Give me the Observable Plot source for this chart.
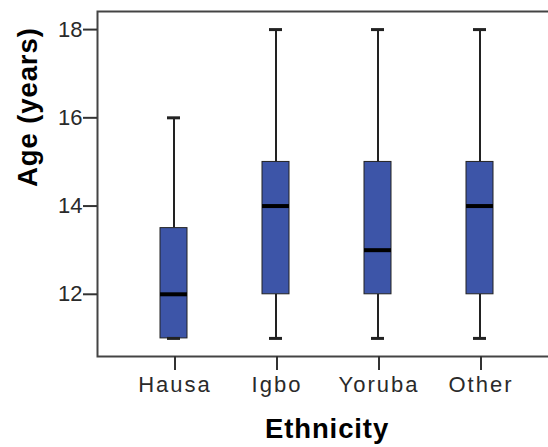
<!DOCTYPE html>
<html>
<head>
<meta charset="utf-8">
<script src="https://cdn.jsdelivr.net/npm/d3@7"></script>
<script src="https://cdn.jsdelivr.net/npm/@observablehq/plot@0.6"></script>
<style>
  html, body { margin: 0; padding: 0; background: #fff; }
  svg g[aria-label="x-axis tick label"] text { letter-spacing: 2px; }
  svg g[aria-label="text"] text { letter-spacing: 0.9px; }
</style>
</head>
<body>
<div id="chart"></div>
<script>
const ethnicity = ["Hausa", "Igbo", "Yoruba", "Other"];
const minAge    = [11, 11, 11, 11];
const q1Age     = [11, 12, 12, 12];
const medianAge = [12, 14, 13, 14];
const q3Age     = [13.5, 15, 15, 15];
const maxAge    = [16, 18, 18, 18];
const yTicks    = [12, 14, 16, 18];
const xTitle = "Ethnicity";
const yTitle = "Age (years)";

const data = ethnicity.map((e, i) => ({
  e, min: minAge[i], q1: q1Age[i], median: medianAge[i], q3: q3Age[i], max: maxAge[i]
}));

const boxFill = "#3d55a8";
const ink = "#222";

const chart = Plot.plot({
  width: 548,
  height: 447,
  marginLeft: 97,
  marginRight: -7,
  marginTop: 11,
  marginBottom: 91,
  style: { fontFamily: "'Liberation Sans', Arial, sans-serif", fontSize: "22px", color: "#2a2a2a", background: "#fff" },
  x: { type: "band", domain: ethnicity, paddingInner: 0.737, paddingOuter: 0.599, align: 0.5 },
  y: { domain: [10.59, 18.41] },
  marks: [
    Plot.frame({ stroke: "#444", strokeWidth: 2 }),
    Plot.ruleX(data, { x: "e", y1: "q3", y2: "max", stroke: ink, strokeWidth: 2 }),
    Plot.ruleX(data, { x: "e", y1: "min", y2: "q1", stroke: ink, strokeWidth: 2 }),
    Plot.barY(data, { x: "e", y1: "q1", y2: "q3", fill: boxFill, stroke: ink, strokeWidth: 1 }),
    Plot.tickY(data, { x: "e", y: "median", stroke: "#000", strokeWidth: 4 }),
    Plot.tickY(data, { x: "e", y: "max", stroke: ink, strokeWidth: 3, inset: 7 }),
    Plot.tickY(data, { x: "e", y: "min", stroke: ink, strokeWidth: 3, inset: 7 }),
    Plot.axisY({ ticks: yTicks, tickSize: 14, tickPadding: 1, stroke: "#333", strokeWidth: 2, fontSize: 22, label: null }),
    Plot.axisX({ tickSize: 14, tickPadding: 6, stroke: "#333", strokeWidth: 2, fontSize: 22, label: null, dx: 1 }),
    Plot.text([yTitle], { frameAnchor: "left", rotate: -90, dx: -61, dy: 3, fontSize: 27.5, fontWeight: "bold", lineAnchor: "bottom", fill: "#000" }),
    Plot.text([xTitle], { frameAnchor: "bottom", dx: 0.5, dy: 81, fontSize: 27.5, fontWeight: "bold", lineAnchor: "bottom", fill: "#000" })
  ]
});
document.getElementById("chart").appendChild(chart);
</script>
</body>
</html>
